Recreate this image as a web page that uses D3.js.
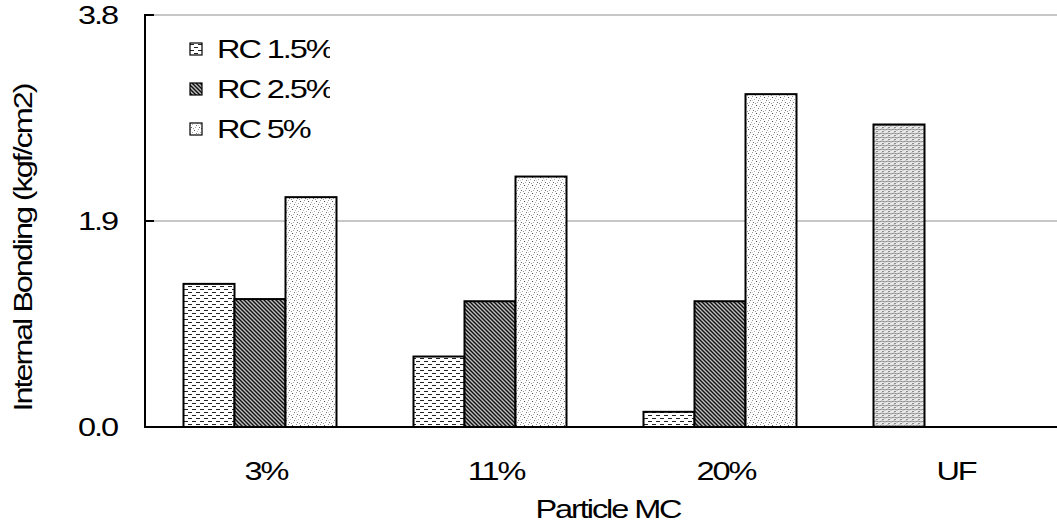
<!DOCTYPE html>
<html>
<head>
<meta charset="utf-8">
<script src="https://cdn.jsdelivr.net/npm/d3@7"></script>
<style>
  html, body { margin: 0; padding: 0; background: #fff; }
  svg { display: block; }
  text { font-family: "Liberation Sans", Arial, sans-serif; fill: #000; letter-spacing: -1.6px; }
</style>
</head>
<body>
<svg id="chart" width="1057" height="527"></svg>
<script>
// Internal bonding strength by particle moisture content
const categories = ["3%", "11%", "20%", "UF"];
const seriesNames = ["RC 1.5%", "RC 2.5%", "RC 5%"];
const rc15 = [1.32, 0.65, 0.14, null];
const rc25 = [1.18, 1.16, 1.16, null];
const rc5  = [2.12, 2.31, 3.07, null];
const ufValue = [2.79];          // UF control, drawn in the first slot of its group
const yTicks = [0.0, 1.9, 3.8];

const svg = d3.select("#chart");
const W = 1057;
const plotLeft = 145, plotTop = 15, plotBottom = 427, bandW = 230;
const FS = 25, SX = 1.3;         // font size and horizontal stretch of the lettering

const x = d3.scaleBand().domain(categories).range([plotLeft, plotLeft + bandW * categories.length]);
const groupFrac = 153 / 230;
const x1 = d3.scaleBand().domain(d3.range(seriesNames.length))
  .range([x.bandwidth() * (1 - groupFrac) / 2, x.bandwidth() * (1 + groupFrac) / 2]);
const y = d3.scaleLinear().domain([0, 3.8]).range([plotBottom, plotTop]);

// wide, tightly-set lettering
function label(sel, tx, ty, rot) {
  return sel.attr("transform", `translate(${tx},${ty})${rot ? ` rotate(${rot})` : ""} scale(${SX},1)`)
    .attr("font-size", FS);
}

// ---- fill patterns ----
const defs = svg.append("defs");

// dashed horizontal
const p1 = defs.append("pattern").attr("id", "pat1").attr("patternUnits", "userSpaceOnUse")
  .attr("width", 8).attr("height", 6);
p1.append("rect").attr("width", 8).attr("height", 6).attr("fill", "#fff");
p1.append("path").attr("d", "M0,1.5 H4 M4,4.5 H8").attr("stroke", "#222").attr("stroke-width", 1);

// dark diagonal
const p2 = defs.append("pattern").attr("id", "pat2").attr("patternUnits", "userSpaceOnUse")
  .attr("width", 4).attr("height", 4);
p2.append("rect").attr("width", 4).attr("height", 4).attr("fill", "#bdbdbd");
p2.append("path").attr("d", "M0,0 L4,4 M-1,3 L1,5 M3,-1 L5,1").attr("stroke", "#111").attr("stroke-width", 1.4);

// light speckle
const p3 = defs.append("pattern").attr("id", "pat3").attr("patternUnits", "userSpaceOnUse")
  .attr("width", 8).attr("height", 8);
p3.append("rect").attr("width", 8).attr("height", 8).attr("fill", "#fff");
[[0,0,"#999"],[4,1,"#555"],[2,3,"#aaa"],[6,4,"#777"],[1,6,"#666"],[5,6,"#aaa"],[3,7,"#999"],[7,2,"#bbb"],[0,4,"#ccc"]]
  .forEach(([px, py, c]) => p3.append("rect").attr("x", px).attr("y", py).attr("width", 1).attr("height", 1).attr("fill", c));

// grey weave
const p4 = defs.append("pattern").attr("id", "pat4").attr("patternUnits", "userSpaceOnUse")
  .attr("width", 6).attr("height", 4);
p4.append("rect").attr("width", 6).attr("height", 4).attr("fill", "#e8e8e8");
p4.append("path").attr("d", "M0,1 L3,2 L6,1 M0,3.5 H2").attr("stroke", "#808080").attr("stroke-width", 0.9).attr("fill", "none");

const fills = ["url(#pat1)", "url(#pat2)", "url(#pat3)"];

// ---- grid lines ----
svg.append("g").selectAll("line").data(yTicks.filter(d => d > 0)).join("line")
  .attr("x1", plotLeft).attr("x2", W).attr("y1", d => y(d)).attr("y2", d => y(d))
  .attr("stroke", "#b4b4b4").attr("stroke-width", 1.5);

// ---- bars ----
const series = [rc15, rc25, rc5];
const barData = [];
series.forEach((vals, si) => vals.forEach((v, ci) => {
  if (v != null) barData.push({ cat: categories[ci], s: si, v });
}));

svg.append("g").selectAll("rect").data(barData).join("rect")
  .attr("x", d => x(d.cat) + x1(d.s))
  .attr("y", d => y(d.v))
  .attr("width", x1.bandwidth())
  .attr("height", d => y(0) - y(d.v))
  .attr("fill", d => fills[d.s])
  .attr("stroke", "#000").attr("stroke-width", 2);

svg.append("g").selectAll("rect").data(ufValue).join("rect")
  .attr("x", x("UF") + x1(0))
  .attr("y", d => y(d))
  .attr("width", x1.bandwidth())
  .attr("height", d => y(0) - y(d))
  .attr("fill", "url(#pat4)")
  .attr("stroke", "#000").attr("stroke-width", 2);

// ---- axes ----
svg.append("line").attr("x1", plotLeft).attr("x2", W).attr("y1", y(0)).attr("y2", y(0))
  .attr("stroke", "#000").attr("stroke-width", 2);
svg.append("line").attr("x1", plotLeft).attr("x2", plotLeft).attr("y1", y(3.8) - 1).attr("y2", y(0) + 1)
  .attr("stroke", "#000").attr("stroke-width", 2);
svg.append("g").selectAll("line").data(yTicks).join("line")
  .attr("x1", plotLeft).attr("x2", plotLeft + 9).attr("y1", d => y(d)).attr("y2", d => y(d))
  .attr("stroke", "#000").attr("stroke-width", 2);

svg.append("g").selectAll("text").data(yTicks).join("text")
  .each(function (d) { label(d3.select(this), 117, y(d) + 9); })
  .attr("text-anchor", "end")
  .text(d => d3.format(".1f")(d));

svg.append("g").selectAll("text").data(categories).join("text")
  .each(function (d) { label(d3.select(this), x(d) + x.bandwidth() / 2 + 6, 480); })
  .attr("text-anchor", "middle")
  .text(d => d);

label(svg.append("text"), 608, 518).attr("text-anchor", "middle").text("Particle MC");

label(svg.append("text"), 32, 248, -90).attr("text-anchor", "middle").text("Internal Bonding (kgf/cm2)");

// ---- legend ----
defs.append("clipPath").attr("id", "legClip").append("rect")
  .attr("x", 180).attr("y", 25).attr("width", 150).attr("height", 125);
const leg = svg.append("g").attr("clip-path", "url(#legClip)");
const legY = d3.scalePoint().domain(seriesNames).range([49, 129]);
const items = leg.selectAll("g").data(seriesNames).join("g")
  .attr("transform", d => `translate(190,${legY(d)})`);
items.append("rect").attr("x", 0).attr("y", -6).attr("width", 12).attr("height", 12)
  .attr("fill", (d, i) => fills[i]).attr("stroke", "#000").attr("stroke-width", 1.2);
items.append("text")
  .each(function () { label(d3.select(this), 27, 9); })
  .text(d => d);
</script>
</body>
</html>
